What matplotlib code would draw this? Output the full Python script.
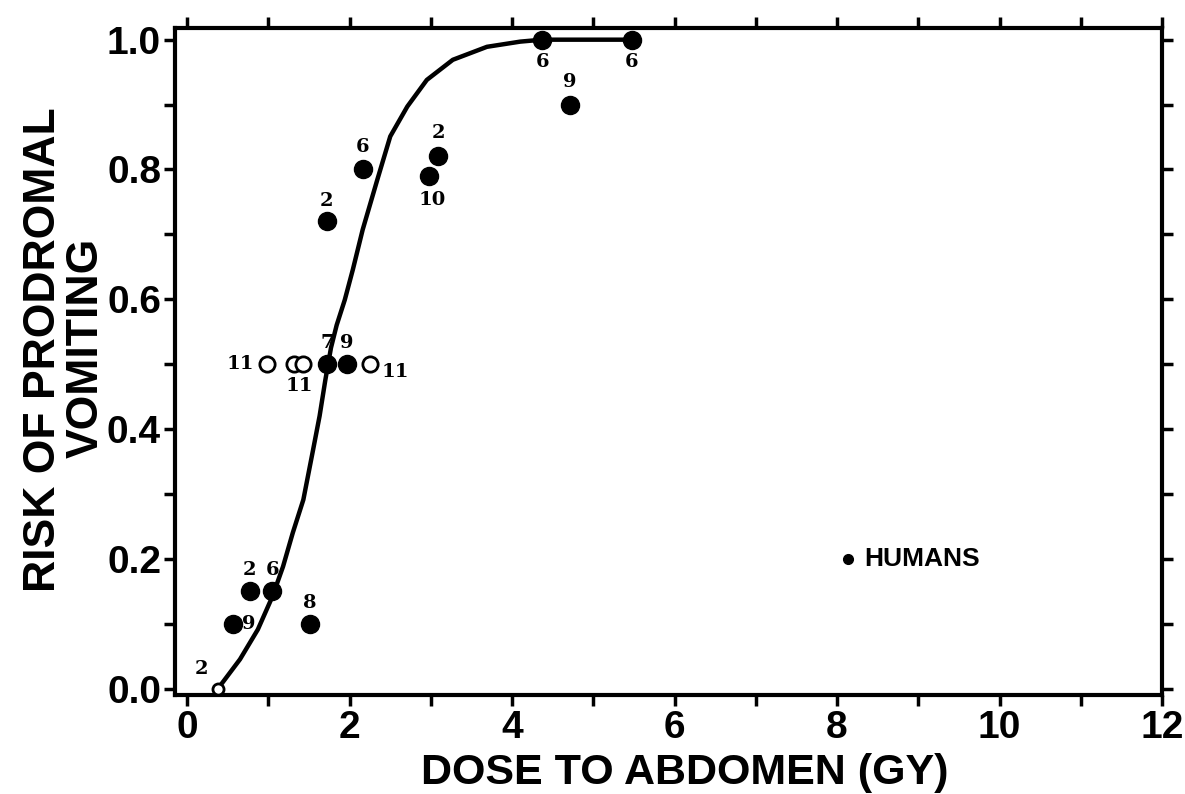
import matplotlib
matplotlib.use("Agg")
import matplotlib.pyplot as plt
from matplotlib.ticker import MultipleLocator

# ---- data ----
filled_x = [0.57, 0.77, 1.05, 1.51, 1.72, 1.97, 1.72, 2.16, 2.98, 3.09, 4.37, 5.47, 4.71]
filled_y = [0.10, 0.15, 0.15, 0.10, 0.50, 0.50, 0.72, 0.80, 0.79, 0.82, 1.00, 1.00, 0.90]
filled_lbl = ["9", "2", "6", "8", "7", "9", "2", "6", "10", "2", "6", "6", "9"]

open_x = [0.98, 1.32, 1.43, 2.25]
open_y = [0.50, 0.50, 0.50, 0.50]
open_lbl = ["11", "", "", "11"]

small_open_x = [0.38]
small_open_y = [0.0]
small_open_lbl = ["2"]

curve_x = [0.38, 0.65, 0.87, 1.05, 1.18, 1.30, 1.43, 1.55, 1.63, 1.70, 1.77, 1.84, 1.94,
           2.04, 2.16, 2.34, 2.50, 2.71, 2.95, 3.27, 3.69, 4.10, 4.37, 5.47]
curve_y = [0.0, 0.045, 0.091, 0.142, 0.188, 0.240, 0.291, 0.368, 0.420, 0.475, 0.525, 0.560, 0.599,
           0.646, 0.707, 0.784, 0.851, 0.897, 0.938, 0.969, 0.989, 0.997, 1.0, 1.0]

legend_x = [8.13]
legend_y = [0.20]
legend_lbl = "HUMANS"

xticks = [0, 2, 4, 6, 8, 10, 12]
yticks = [0.0, 0.2, 0.4, 0.6, 0.8, 1.0]
xlabel = "DOSE TO ABDOMEN (GY)"
ylabel_lines = ["RISK OF PRODROMAL", "VOMITING"]

# ---- figure ----
fig = plt.figure(figsize=(11.85, 7.94), dpi=100)
ax = fig.add_axes([175 / 1185, 1 - 695 / 794, 987 / 1185, 667 / 794])

ax.plot(curve_x, curve_y, color="black", lw=3.2, solid_capstyle="round",
        solid_joinstyle="round", zorder=2)
ax.plot(filled_x, filled_y, "o", color="black", ms=13, zorder=3)
ax.plot(open_x, open_y, "o", mfc="white", mec="black", mew=2, ms=11, zorder=3)
ax.plot(small_open_x, small_open_y, "o", mfc="white", mec="black", mew=2, ms=8, zorder=3)
ax.plot(legend_x, legend_y, "o", color="black", ms=7, zorder=3)

lblfont = dict(family="DejaVu Serif", fontweight="bold", fontsize=14, color="black")
# label offsets in points (dx, dy)
filled_off = [(11, 0), (0, 15), (0, 15), (0, 15), (0, 15), (0, 15), (0, 15), (0, 16),
              (2, -17), (0, 17), (0, -16), (0, -16), (0, 16)]
for x, y, t, (dx, dy) in zip(filled_x, filled_y, filled_lbl, filled_off):
    ax.annotate(t, (x, y), xytext=(dx, dy), textcoords="offset points",
                ha="center", va="center", **lblfont)
open_off = [(-19, 0), (0, 0), (0, 0), (18, -6)]
for x, y, t, (dx, dy) in zip(open_x, open_y, open_lbl, open_off):
    if t:
        ax.annotate(t, (x, y), xytext=(dx, dy), textcoords="offset points",
                    ha="center", va="center", **lblfont)
ax.annotate("11", ((open_x[1] + open_x[2]) / 2, 0.5), xytext=(0, -16),
            textcoords="offset points", ha="center", va="center", **lblfont)
for x, y, t in zip(small_open_x, small_open_y, small_open_lbl):
    ax.annotate(t, (x, y), xytext=(-12, 14), textcoords="offset points",
                ha="center", va="center", **lblfont)

ax.annotate(legend_lbl, (legend_x[0], legend_y[0]), xytext=(12, 0), textcoords="offset points",
            ha="left", va="center", family="Liberation Sans", fontweight="bold", fontsize=19)

ax.set_xlim(-0.15, 12.0)
ax.set_ylim(-0.01, 1.018)

ax.set_xticks(xticks)
ax.set_xticklabels([str(v) for v in xticks])
ax.set_yticks(yticks)
ax.set_yticklabels([f"{v:.1f}" for v in yticks])
ax.xaxis.set_minor_locator(MultipleLocator(1))
ax.yaxis.set_minor_locator(MultipleLocator(0.1))

for s in ax.spines.values():
    s.set_linewidth(3)
ax.tick_params(which="both", direction="out", length=8, width=2.5,
               top=True, right=True, bottom=True, left=True,
               labeltop=False, labelright=False)
ax.tick_params(which="major", labelsize=28)
ax.tick_params(axis="x", which="major", pad=3)
ax.tick_params(axis="y", which="major", pad=2)
for lab in ax.get_xticklabels() + ax.get_yticklabels():
    lab.set_family("Liberation Sans")
    lab.set_fontweight("bold")

fig.text(0.578, 0.012, xlabel, ha="center", va="baseline",
         family="Liberation Sans", fontweight="bold", fontsize=31)
fig.text(55 / 1185, 1 - 350 / 794, ylabel_lines[0], ha="center", va="baseline",
         rotation=90, rotation_mode="anchor",
         family="Liberation Sans", fontweight="bold", fontsize=32)
fig.text(98 / 1185, 1 - 348 / 794, ylabel_lines[1], ha="center", va="baseline",
         rotation=90, rotation_mode="anchor",
         family="Liberation Sans", fontweight="bold", fontsize=32)

fig.savefig("out.png", dpi=100)
